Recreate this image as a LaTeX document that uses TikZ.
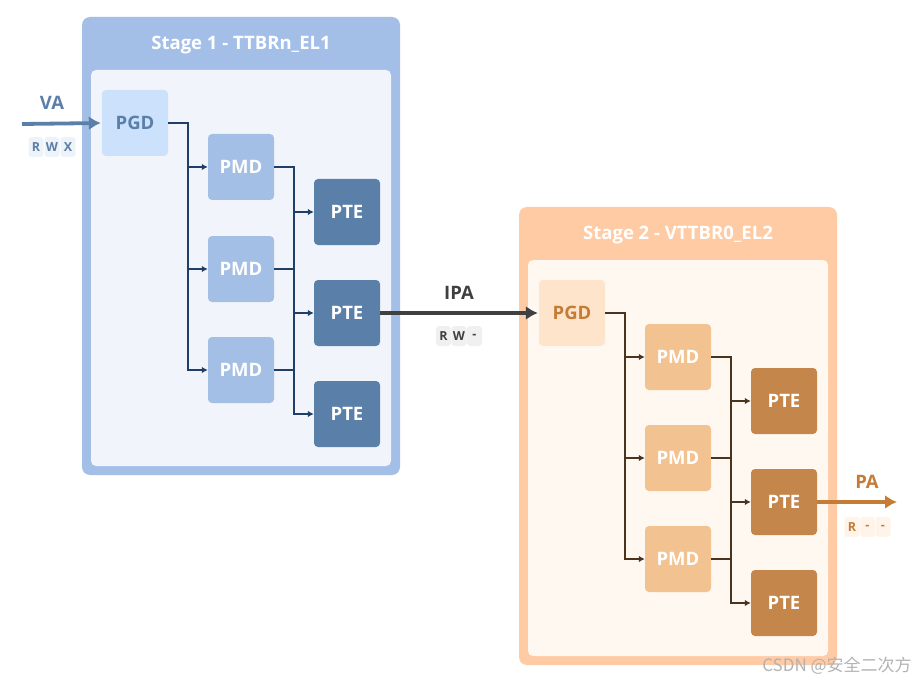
\documentclass[tikz,border=0pt]{standalone}
\usepackage{fontspec}
\setmainfont{Open Sans}
\newfontfamily\cjk{Noto Sans CJK SC}
\usetikzlibrary{arrows.meta}

\definecolor{blueOuter}{HTML}{A3BFE8}
\definecolor{blueInner}{HTML}{F1F5FB}
\definecolor{bluePGD}{HTML}{CCE1FB}
\definecolor{blueText}{HTML}{5A7FA8}
\definecolor{bluePMD}{HTML}{A4BFE6}
\definecolor{bluePTE}{HTML}{5A80AA}
\definecolor{blueLine}{HTML}{1F3F66}
\definecolor{blueTag}{HTML}{EEF3FA}
\definecolor{grayArrow}{HTML}{404040}
\definecolor{grayTag}{HTML}{F0F0F0}
\definecolor{peachOuter}{HTML}{FFCBA4}
\definecolor{peachInner}{HTML}{FFF8F1}
\definecolor{peachPGD}{HTML}{FFE4CC}
\definecolor{peachText}{HTML}{C47C36}
\definecolor{peachPMD}{HTML}{F2C391}
\definecolor{peachPTE}{HTML}{C4864A}
\definecolor{brownLine}{HTML}{4A3420}
\definecolor{peachTag}{HTML}{FFF4EA}

\begin{document}
\begin{tikzpicture}[x=1pt, y=-1pt,
  table/.style={minimum width=66pt, minimum height=66pt, rounded corners=4pt,
    inner sep=0pt, font=\fontsize{18.5}{18.5}\selectfont\bfseries, text=white},
  link/.style={line width=1.8pt, -{Latex[length=6pt,width=6.5pt]}},
  bigarrow/.style={line width=3.8pt, -{Latex[length=12pt,width=14pt]}},
  tag/.style={minimum width=15pt, minimum height=20pt, inner sep=0pt, rounded corners=3pt,
    font=\fontsize{12.5}{12.5}\selectfont\bfseries},
  title/.style={text=white, font=\fontsize{18.5}{18.5}\selectfont\bfseries},
  arrowlabel/.style={font=\fontsize{18.5}{18.5}\selectfont\bfseries}]

\useasboundingbox (0,0) rectangle (919,682);

% Stage 1
\fill[blueOuter, rounded corners=8pt] (82,17) rectangle (400,475);
\fill[blueInner, rounded corners=5pt] (91,70) rectangle (391,466);
\node[title] (titleA) at (241,45) {Stage 1 - TTBRn\_EL1};

\node[table, fill=bluePGD, text=blueText] (pgdA) at (135,123) {PGD};
\node[table, fill=bluePMD] (pmdA1) at (241,167) {PMD};
\node[table, fill=bluePMD] (pmdA2) at (241,269) {PMD};
\node[table, fill=bluePMD] (pmdA3) at (241,370) {PMD};
\node[table, fill=bluePTE] (pteA1) at (347,212) {PTE};
\node[table, fill=bluePTE] (pteA2) at (347,313) {PTE};
\node[table, fill=bluePTE] (pteA3) at (347,414) {PTE};

\draw[link, blueLine] (pgdA.east) -- ++(20,0) coordinate (busA) |- (pmdA3.west);
\draw[link, blueLine] (busA |- pmdA1.west) -- (pmdA1.west);
\draw[link, blueLine] (busA |- pmdA2.west) -- (pmdA2.west);
\draw[link, blueLine] (pmdA1.east) -- ++(20,0) coordinate (busB) |- (pteA3.west);
\draw[blueLine, line width=1.8pt] (pmdA2.east) -- (busB |- pmdA2.east);
\draw[blueLine, line width=1.8pt] (pmdA3.east) -- (busB |- pmdA3.east);
\draw[link, blueLine] (busB |- pteA1.west) -- (pteA1.west);
\draw[link, blueLine] (busB |- pteA2.west) -- (pteA2.west);

% Stage 2
\fill[peachOuter, rounded corners=8pt] (519,207) rectangle (837,665);
\fill[peachInner, rounded corners=5pt] (528,260) rectangle (828,656);
\node[title] (titleB) at (678,235) {Stage 2 - VTTBR0\_EL2};

\node[table, fill=peachPGD, text=peachText] (pgdB) at (572,313) {PGD};
\node[table, fill=peachPMD] (pmdB1) at (678,357) {PMD};
\node[table, fill=peachPMD] (pmdB2) at (678,458) {PMD};
\node[table, fill=peachPMD] (pmdB3) at (678,559) {PMD};
\node[table, fill=peachPTE] (pteB1) at (784,401) {PTE};
\node[table, fill=peachPTE] (pteB2) at (784,502) {PTE};
\node[table, fill=peachPTE] (pteB3) at (784,603) {PTE};

\draw[link, brownLine] (pgdB.east) -- ++(20,0) coordinate (busC) |- (pmdB3.west);
\draw[link, brownLine] (busC |- pmdB1.west) -- (pmdB1.west);
\draw[link, brownLine] (busC |- pmdB2.west) -- (pmdB2.west);
\draw[link, brownLine] (pmdB1.east) -- ++(20,0) coordinate (busD) |- (pteB3.west);
\draw[brownLine, line width=1.8pt] (pmdB2.east) -- (busD |- pmdB2.east);
\draw[brownLine, line width=1.8pt] (pmdB3.east) -- (busD |- pmdB3.east);
\draw[link, brownLine] (busD |- pteB1.west) -- (pteB1.west);
\draw[link, brownLine] (busD |- pteB2.west) -- (pteB2.west);

% VA, IPA, PA
\coordinate (vaStart) at (22,124);
\draw[bigarrow, blueText, shorten >=1pt] (vaStart) -- (pgdA.west);
\node[arrowlabel, text=blueText] (vaLabel) at (52,103) {VA};
\foreach \t [count=\i] in {R,W,X}
  \node[tag, fill=blueTag, text=blueText] (vaTag\i) at (20+16*\i,147) {\t};

\draw[bigarrow, grayArrow, shorten >=1pt] (pteA2.east) -- (pgdB.west);
\node[arrowlabel, text=grayArrow] (ipaLabel) at (459,293) {IPA};
\foreach \t [count=\i] in {R,W,-}
  \node[tag, fill=grayTag, text=grayArrow] (ipaTag\i) at (428+15.5*\i,336) {\t};

\coordinate (paEnd) at (897,502);
\draw[bigarrow, peachText] (pteB2.east) -- (paEnd);
\node[arrowlabel, text=peachText] (paLabel) at (867,482) {PA};
\foreach \t [count=\i] in {R,-,-}
  \node[tag, fill=peachTag, text=peachText] (paTag\i) at (836.5+15.5*\i,527) {\t};

\node[text=black!30, font=\cjk\fontsize{17}{17}\selectfont] (mark) at (837,666) {CSDN @安全二次方};

\end{tikzpicture}
\end{document}
